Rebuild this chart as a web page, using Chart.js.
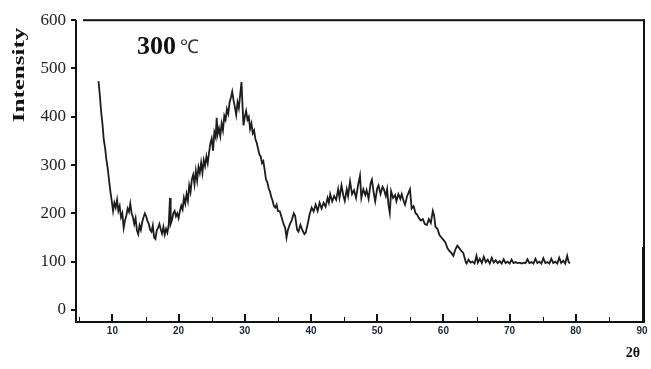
<!DOCTYPE html>
<html>
<head>
<meta charset="utf-8">
<script src="https://cdn.jsdelivr.net/npm/chart.js@4.4.1/dist/chart.umd.min.js"></script>
<style>
html,body{margin:0;padding:0;background:#fff;}
canvas{display:block;}
</style>
</head>
<body>
<canvas id="c" width="651" height="369"></canvas>
<script>
// ---- data ----
const twoTheta = [
7.9,8.1,8.3,8.5,8.7,8.9,9.1,9.3,9.5,9.7,9.9,10.1,10.3,10.5,10.7,10.9,11.1,11.3,11.5,11.7,11.9,
12.1,12.3,12.5,12.7,12.9,13.1,13.3,13.5,13.7,13.9,14.1,14.3,14.5,14.7,14.9,15.1,15.3,15.5,15.7,15.9,
16.1,16.3,16.5,16.7,16.9,17.1,17.3,17.5,17.7,17.9,18.1,18.3,18.5,18.7,18.8,19.0,19.2,19.4,19.6,19.8,
20.0,20.2,20.4,20.6,20.8,21.0,21.2,21.4,21.6,21.8,22.0,22.2,22.4,22.6,22.8,23.0,23.2,23.4,23.6,23.8,
24.0,24.2,24.4,24.6,24.8,25.0,25.2,25.4,25.6,25.75,25.9,26.1,26.3,26.5,26.7,26.9,27.1,27.3,27.5,27.7,27.9,
28.1,28.3,28.5,28.7,28.9,29.1,29.3,29.5,29.6,29.8,30.0,30.2,30.4,30.6,30.8,31.0,31.2,31.4,31.6,31.8,
32.0,32.2,32.4,32.6,32.8,33.0,33.2,33.4,33.6,33.8,34.0,34.2,34.4,34.6,34.8,35.0,35.3,35.6,35.9,36.1,36.3,
36.5,36.8,37.1,37.4,37.6,37.9,38.1,38.4,38.7,39.0,39.2,39.5,39.8,40.1,40.4,40.7,41.0,41.3,41.6,41.9,
42.2,42.5,42.7,42.9,43.2,43.5,43.8,44.1,44.3,44.6,44.9,45.1,45.4,45.6,45.9,46.2,46.5,46.8,47.1,47.4,47.6,
47.9,48.2,48.4,48.7,49.0,49.2,49.5,49.7,50.0,50.2,50.5,50.8,51.0,51.3,51.5,51.7,51.9,52.1,52.4,52.7,52.9,
53.2,53.5,53.7,54.0,54.2,54.5,54.8,54.95,55.2,55.5,55.8,56.0,56.3,56.6,56.9,57.2,57.5,57.8,58.1,58.4,58.6,
58.8,59.1,59.4,59.7,60.0,60.3,60.6,60.9,61.2,61.5,61.8,62.1,62.4,62.7,63.0,63.2,63.4,
63.5,63.8,64.1,64.4,64.7,65.0,65.2,65.5,65.8,66.1,66.4,66.7,67.0,67.3,67.6,67.9,68.2,68.5,68.8,69.1,69.4,69.7,
70.0,70.3,70.6,70.9,71.2,71.5,71.8,72.1,72.4,72.7,73.0,73.3,73.6,73.9,74.2,74.5,74.8,75.1,75.4,75.7,
76.0,76.3,76.6,76.9,77.2,77.5,77.8,78.1,78.4,78.7,78.9,79.1
];
const intensity = [
474,445,410,385,352,335,310,292,268,245,226,205,222,212,228,205,215,192,200,170,185,
195,210,203,220,200,192,178,190,165,157,175,166,182,192,200,194,184,178,166,162,
175,150,147,165,170,178,167,158,172,156,168,160,176,232,178,186,200,205,194,200,
190,205,216,208,232,220,240,226,258,244,270,280,260,288,268,296,284,305,284,310,
298,318,304,326,345,355,330,368,358,398,364,376,360,386,372,402,394,416,406,430,440,
452,434,420,404,430,418,446,472,440,382,400,412,394,400,375,386,366,372,354,346,
334,322,318,304,308,290,270,265,252,245,234,226,215,212,218,205,204,190,176,170,150,
165,177,186,200,195,166,162,176,165,157,160,178,198,212,204,218,205,222,210,222,
214,232,222,240,225,236,228,250,232,258,236,226,250,236,266,240,248,232,258,278,232,
250,238,248,230,262,270,240,225,252,258,240,255,250,236,250,218,201,246,232,238,225,
240,230,240,225,218,235,245,250,210,215,200,198,190,185,188,178,176,188,180,205,195,
172,168,155,150,145,140,128,122,118,112,125,133,128,122,118,108,98,
96,104,98,100,96,112,98,106,97,110,99,104,96,108,98,103,97,101,96,105,97,100,
96,104,97,99,97,98,96,98,97,105,97,99,96,106,97,100,96,107,97,99,
96,106,97,100,96,108,97,102,96,112,100,96
];
const xTicks = [10,20,30,40,50,60,70,80,90];
const yTicks = [0,100,200,300,400,500,600];
const xRange = [4.5, 90];
const yRange = [-25, 600];
const sampleLabel = '300';
const unitLabel = '\u2103';
const yTitle = 'Intensity';
const xTitle = '2\u03b8';

const points = twoTheta.map((x, i) => ({x: x, y: intensity[i]}));

const frameColor = '#111111';

const decor = {
  id: 'decor',
  afterDraw(chart) {
    const ctx = chart.ctx;
    const a = chart.chartArea;
    const xs = chart.scales.x, ys = chart.scales.y;
    const L = a.left, R = Math.round(a.right), T = a.top, B = a.bottom;
    ctx.save();
    ctx.globalAlpha = 1;
    ctx.fillStyle = frameColor;
    ctx.fillRect(L - 1, T, 2, B - T);
    ctx.fillRect(L - 1, B - 1, R - L + 4, 2);
    ctx.fillRect(L + 7, T - 1, R - L - 4, 2);
    ctx.fillRect(R + 1, T - 1, 2, B - T + 1);
    const yk = Math.round(ys.getPixelForValue(130));
    ctx.fillRect(R, yk, 3, B - yk);
    yTicks.forEach(v => {
      const p = Math.round(ys.getPixelForValue(v));
      ctx.fillRect(L - 5, p - 1, 5, 2);
    });
    xTicks.forEach(v => {
      const p = Math.round(xs.getPixelForValue(v));
      if (v < xRange[1]) ctx.fillRect(p - 1, B - 8, 2, 8);
      const m = Math.round(xs.getPixelForValue(v - 5));
      ctx.fillRect(m, B - 5, 1, 5);
    });
    ctx.fillStyle = '#111';
    ctx.save();
    ctx.translate(20, 75);
    ctx.rotate(-Math.PI / 2);
    ctx.scale(1, 0.66);
    ctx.font = 'bold 25px "Liberation Serif", "Times New Roman", serif';
    ctx.textAlign = 'center';
    ctx.textBaseline = 'middle';
    ctx.fillText(yTitle, 0, 0);
    ctx.restore();
    ctx.textBaseline = 'alphabetic';
    ctx.textAlign = 'left';
    ctx.font = 'bold 26px "Liberation Serif", "Times New Roman", serif';
    ctx.fillText(sampleLabel, 137, 54);
    ctx.font = '19px "Liberation Serif", "Times New Roman", serif';
    ctx.fillStyle = '#333';
    ctx.fillText(unitLabel, 180, 53);
    ctx.fillStyle = '#111';
    ctx.font = 'bold 14px "Liberation Serif", "Times New Roman", serif';
    ctx.textAlign = 'center';
    ctx.textBaseline = 'middle';
    ctx.fillText(xTitle, 633, 353);
    ctx.restore();
  }
};

new Chart(document.getElementById('c'), {
  type: 'scatter',
  data: {
    datasets: [{
      data: points,
      showLine: true,
      borderColor: '#1c1c1c',
      borderWidth: 1.8,
      pointRadius: 0,
      tension: 0,
      fill: false
    }]
  },
  options: {
    responsive: false,
    animation: false,
    devicePixelRatio: 1,
    layout: {padding: {top: 17, right: 9, left: 0, bottom: 0}},
    plugins: {legend: {display: false}, tooltip: {enabled: false}},
    scales: {
      x: {
        type: 'linear',
        min: xRange[0], max: xRange[1],
        afterBuildTicks: s => { s.ticks = xTicks.map(v => ({value: v})); },
        afterFit: s => { s.height = 47; },
        grid: {display: false, drawTicks: false},
        border: {display: false},
        ticks: {
          padding: 3,
          maxRotation: 0,
          autoSkip: false,
          color: '#1d2838',
          font: {family: '"Liberation Sans", Arial, sans-serif', size: 10, weight: 'bold'}
        }
      },
      y: {
        type: 'linear',
        min: yRange[0], max: yRange[1],
        afterBuildTicks: s => { s.ticks = yTicks.map(v => ({value: v})); },
        afterFit: s => { s.width = 76; },
        grid: {display: false, drawTicks: false},
        border: {display: false},
        ticks: {
          padding: 10,
          color: '#222',
          font: {family: '"Liberation Serif", "Times New Roman", serif', size: 17}
        }
      }
    }
  },
  plugins: [decor]
});
</script>
</body>
</html>
